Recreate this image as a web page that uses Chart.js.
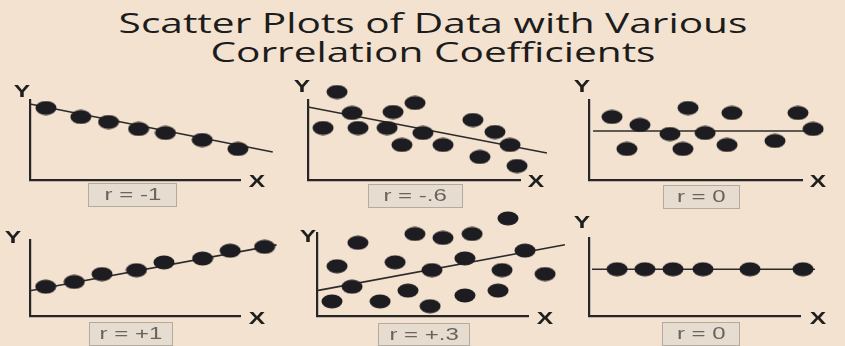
<!DOCTYPE html>
<html>
<head>
<meta charset="utf-8">
<script src="https://cdn.jsdelivr.net/npm/chart.js@4.4.1/dist/chart.umd.min.js"></script>
<style>
  html, body { margin: 0; padding: 0; }
  body { width: 845px; height: 346px; background: #F3E2CF; position: relative; overflow: hidden; }
  canvas.panel { position: absolute; left: 0; top: 0; pointer-events: none; }
  .title { position: absolute; left: 433px; font-family: "Open Sans", sans-serif; font-size: 28px; font-weight: 500; color: #1c1c1c;
           white-space: nowrap; transform: translateX(-50%) scaleX(1.45); line-height: 1; }
  .lbl { position: absolute; font-family: "Liberation Sans", Arial, sans-serif; font-weight: bold; font-size: 17px; color: #1e1e1e;
         transform: translate(-50%, -50%) scaleX(1.45); line-height: 1; }
  .rbox { position: absolute; box-sizing: border-box; background: #E7DCD0; border: 1.5px solid #B3AAA0;
          display: flex; align-items: center; justify-content: center; }
  .rbox span { font-family: "Liberation Sans", Arial, sans-serif; font-size: 16px; color: #6a645e; transform: scaleX(1.5); white-space: pre; display: inline-block; }
</style>
</head>
<body>
<div class="title" style="top:8px">Scatter Plots of Data with Various</div>
<div class="title" style="top:37px">Correlation Coefficients</div>
<script>
// ---- data (axes in arbitrary 0..10 units) ----
const p1X = [0.76, 2.42, 3.74, 5.17, 6.45, 8.2, 9.9];
const p1Y = [9.0, 7.88, 7.25, 6.38, 5.88, 5.0, 3.88];
const t1X = [0, 11.56];
const t1Y = [9.5, 3.5];

const p2X = [1.37, 2.08, 4.01, 5.05, 0.71, 2.36, 3.73, 5.42, 4.43, 6.37, 7.78, 8.82, 9.53, 8.11, 9.86];
const p2Y = [11.0, 8.38, 8.5, 9.63, 6.5, 6.5, 6.5, 5.88, 4.38, 4.38, 7.5, 6.0, 4.38, 2.88, 1.75];
const t2X = [0, 11.27];
const t2Y = [9.13, 3.38];

const p3X = [1.08, 2.39, 1.78, 4.65, 3.8, 5.45, 4.41, 6.71, 6.48, 8.73, 9.81, 10.52];
const p3Y = [7.88, 6.88, 3.88, 9.0, 5.75, 5.88, 3.88, 8.38, 4.38, 4.88, 8.38, 6.38];
const t3X = [0.19, 10.99];
const t3Y = [6.13, 6.13];

const p4X = [0.75, 2.11, 3.43, 5.07, 6.38, 8.22, 9.53, 11.17];
const p4Y = [3.85, 4.49, 5.51, 6.03, 7.05, 7.56, 8.59, 9.1];
const t4X = [0, 11.74];
const t4Y = [3.33, 9.36];

const p5X = [9.05, 1.94, 4.64, 5.97, 7.35, 0.95, 3.7, 7.01, 9.86, 5.45, 8.77, 10.81, 1.66, 4.31, 8.58, 7.01, 0.71, 2.99, 5.36];
const p5Y = [11.76, 8.82, 9.88, 9.41, 9.88, 6.0, 6.47, 6.94, 7.88, 5.53, 5.53, 5.06, 3.53, 3.06, 3.06, 2.47, 1.76, 1.76, 1.18];
const t5X = [0, 11.75];
const t5Y = [3.06, 8.59];

const p6X = [1.33, 2.65, 3.98, 5.4, 7.63, 10.14];
const p6Y = [6, 6, 6, 6, 6, 6];
const t6X = [0.14, 10.71];
const t6Y = [6, 6];

const rLabels = ['r = -1', 'r = -.6', 'r = 0', 'r = +1', 'r = +.3', 'r = 0'];
const axisLabelY = 'Y';
const axisLabelX = 'X';

// ---- layout (pixels) ----
const W = 845, H = 346;
const frames = [
  { l: 29,  r: 240, t: 100, b: 180, yl: [22, 91],  xl: [257, 181], box: [88, 183, 89, 24] },
  { l: 308, r: 520, t: 100, b: 180, yl: [302, 86], xl: [536, 181], box: [368, 184, 95, 24] },
  { l: 589, r: 802, t: 100, b: 180, yl: [582, 86], xl: [818, 181], box: [663, 185, 77, 24] },
  { l: 27,  r: 240, t: 240, b: 318, yl: [13, 237], xl: [257, 318], box: [89, 322, 84, 24] },
  { l: 317, r: 528, t: 233, b: 318, yl: [308, 236], xl: [545, 318], box: [378, 323, 92, 23] },
  { l: 589, r: 800, t: 238, b: 318, yl: [582, 222], xl: [818, 318], box: [662, 322, 78, 24] }
];

const series = [
  [p1X, p1Y, t1X, t1Y], [p2X, p2Y, t2X, t2Y], [p3X, p3Y, t3X, t3Y],
  [p4X, p4Y, t4X, t4Y], [p5X, p5Y, t5X, t5Y], [p6X, p6Y, t6X, t6Y]
];

// elliptical dot (the reference is horizontally stretched)
const dot = document.createElement('canvas');
dot.width = 22; dot.height = 15;
(function () {
  const c = dot.getContext('2d');
  c.fillStyle = '#1d1d21';
  c.beginPath();
  c.ellipse(11, 7.5, 10.5, 7, 0, 0, Math.PI * 2);
  c.fill();
})();

const zip = (xs, ys) => xs.map((x, i) => ({ x, y: ys[i] }));

frames.forEach((f, i) => {
  const [px, py, tx, ty] = series[i];
  const cv = document.createElement('canvas');
  cv.className = 'panel';
  cv.width = W; cv.height = H;
  document.body.appendChild(cv);

  new Chart(cv, {
    type: 'scatter',
    data: {
      datasets: [
        { data: zip(px, py), pointStyle: dot, pointRadius: 30, pointHoverRadius: 30, pointHitRadius: 0,
          backgroundColor: '#1d1d21', borderWidth: 0, clip: false },
        { data: zip(tx, ty), showLine: true, pointRadius: 0, borderColor: '#2b2b2b', borderWidth: 1.6, clip: false }
      ]
    },
    options: {
      responsive: false,
      animation: false,
      events: [],
      layout: { padding: { left: f.l, right: W - f.r, top: f.t, bottom: H - f.b } },
      plugins: { legend: { display: false }, tooltip: { enabled: false } },
      scales: {
        x: { type: 'linear', min: 0, max: 10,
             grid: { display: false, drawTicks: false },
             ticks: { display: false },
             border: { display: true, color: '#262626', width: 2.2 } },
        y: { type: 'linear', min: 0, max: 10,
             grid: { display: false, drawTicks: false },
             ticks: { display: false },
             border: { display: true, color: '#262626', width: 2.2 } }
      }
    }
  });

  const yl = document.createElement('div');
  yl.className = 'lbl'; yl.textContent = axisLabelY;
  yl.style.left = f.yl[0] + 'px'; yl.style.top = f.yl[1] + 'px';
  document.body.appendChild(yl);

  const xl = document.createElement('div');
  xl.className = 'lbl'; xl.textContent = axisLabelX;
  xl.style.left = f.xl[0] + 'px'; xl.style.top = f.xl[1] + 'px';
  document.body.appendChild(xl);

  const bx = document.createElement('div');
  bx.className = 'rbox';
  bx.style.left = f.box[0] + 'px'; bx.style.top = f.box[1] + 'px';
  bx.style.width = f.box[2] + 'px'; bx.style.height = f.box[3] + 'px';
  const sp = document.createElement('span');
  sp.textContent = rLabels[i];
  bx.appendChild(sp);
  document.body.appendChild(bx);
});
</script>
</body>
</html>
